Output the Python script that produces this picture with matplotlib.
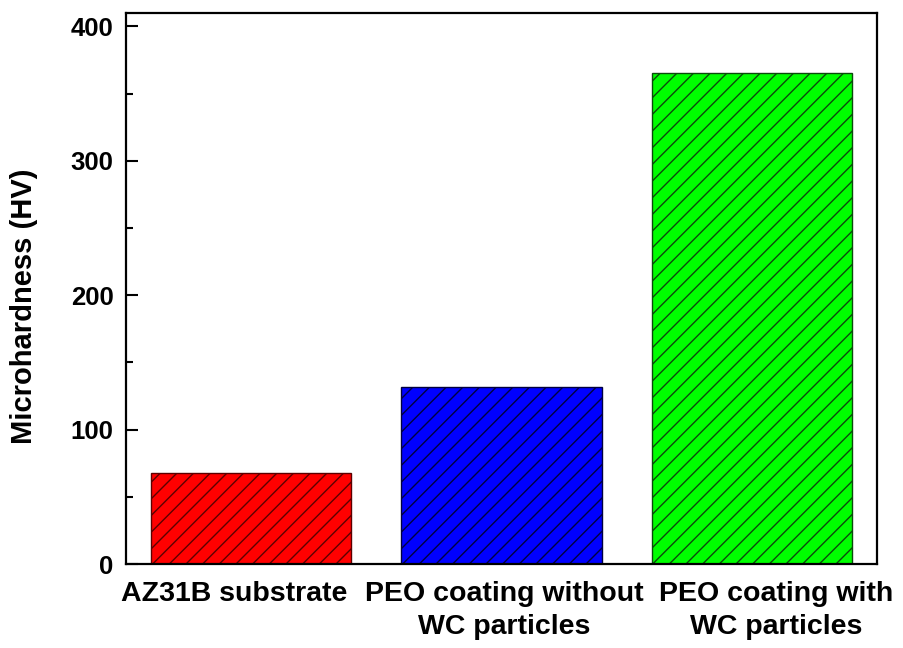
import matplotlib.pyplot as plt
from matplotlib.ticker import MultipleLocator
from matplotlib.transforms import ScaledTranslation

plt.rcParams['font.family'] = ['Liberation Sans', 'DejaVu Sans']
plt.rcParams['font.weight'] = 'bold'
plt.rcParams['hatch.linewidth'] = 1.0

# data
samples = ["AZ31B substrate", "PEO coating without\nWC particles", "PEO coating with\nWC particles"]
hardness = [68, 132, 365]
fill_colors = ["#ff0000", "#0000ff", "#00ff00"]
edge_colors = ["#5c0000", "#000040", "#0b4a0b"]
label_shift_px = [-17, 3, 24]   # tick labels are not quite centred in the original

fig = plt.figure(figsize=(9.04, 6.48), dpi=100)
ax = fig.add_axes([0.1394, 0.1296, 0.8307, 0.8503])

x = range(len(samples))
for i in x:
    ax.bar(i, hardness[i], width=0.8, color=fill_colors[i], edgecolor=edge_colors[i],
           linewidth=1.0, hatch='//')

ax.set_xlim(-0.5, 2.5)
ax.set_ylim(0, 410)
ax.set_xticks(list(x))
ax.set_xticklabels(samples, fontsize=20.5, fontweight='bold', linespacing=1.35)
ax.yaxis.set_major_locator(MultipleLocator(100))
ax.yaxis.set_minor_locator(MultipleLocator(50))
ax.tick_params(axis='y', which='major', direction='in', length=8.5, width=1.5,
               labelsize=18.5, pad=9)
ax.tick_params(axis='y', which='minor', direction='in', length=5, width=1.5)
ax.tick_params(axis='x', length=0, pad=12)
for lab in ax.get_yticklabels():
    lab.set_fontweight('bold')

for lab, dx in zip(ax.get_xticklabels(), label_shift_px):
    lab.set_transform(lab.get_transform() + ScaledTranslation(dx / 100, 0, fig.dpi_scale_trans))

fig.text(24 / 904, 1 - 306 / 648, "Microhardness (HV)", rotation=90, fontsize=21,
         fontweight='bold', ha='center', va='center')

for s in ax.spines.values():
    s.set_linewidth(1.6)

fig.savefig("out.png", dpi=100)
